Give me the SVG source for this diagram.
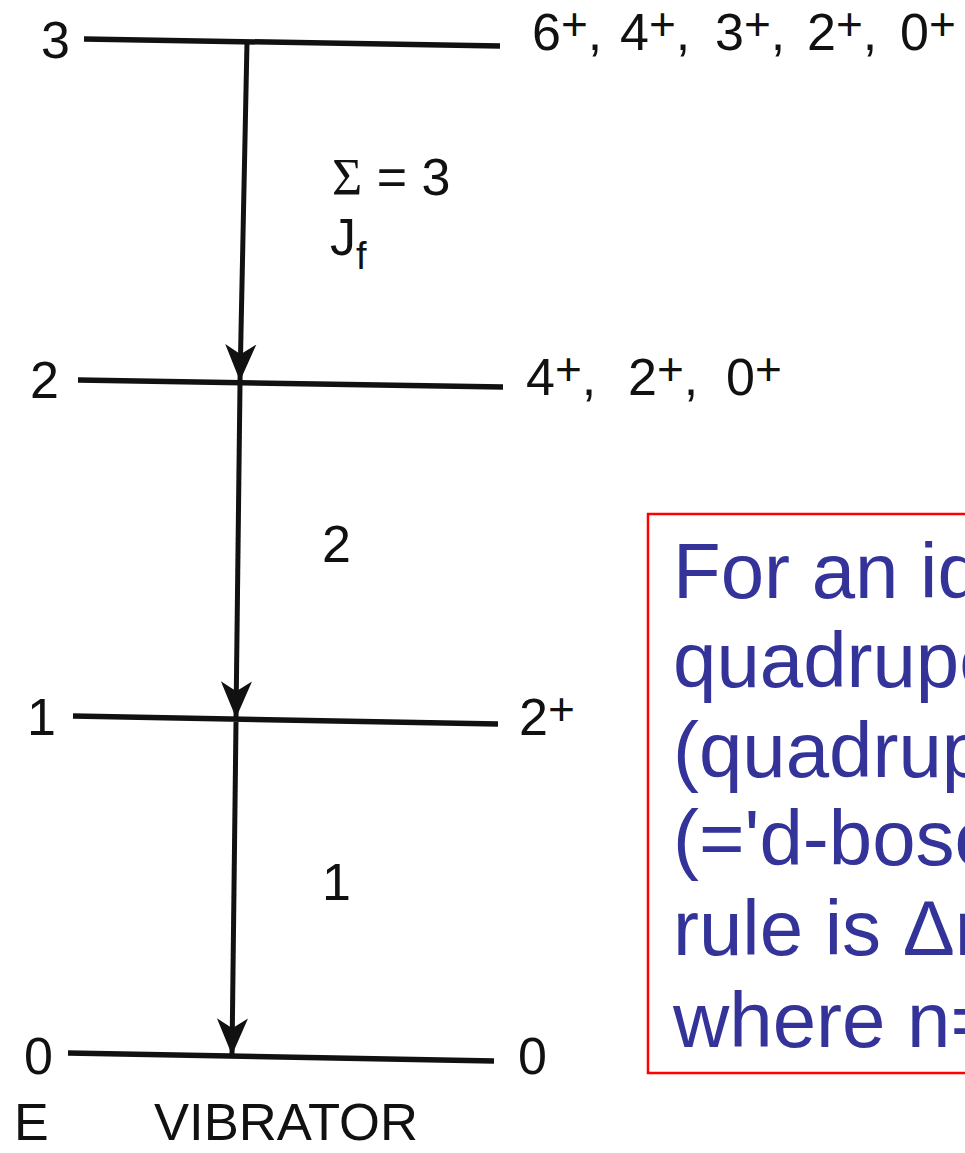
<svg xmlns="http://www.w3.org/2000/svg" width="965" height="1153" viewBox="0 0 965 1153">
<style>
.t{font-family:"Liberation Sans",Arial,sans-serif;font-size:52px;fill:#111}
.sup{font-size:46px}
.lvl{stroke:#111;stroke-width:5.5;stroke-linecap:butt;fill:none}
.arr{stroke:#111;stroke-width:5;fill:none}
.note{font-family:"Liberation Sans",Arial,sans-serif;font-size:78px;fill:#333399}
</style>
<defs>
<marker id="ah" markerUnits="userSpaceOnUse" markerWidth="40" markerHeight="40" viewBox="-34 -16 36 32" refX="0" refY="0" orient="auto">
<path d="M0,0 L-33,-14 L-24,0 L-33,14 Z" fill="#111"/>
</marker>
</defs>
<rect width="965" height="1153" fill="#fff"/>

<g id="level3">
<line class="lvl" x1="84" y1="39" x2="500" y2="46"/>
<text class="t" x="41" y="58">3</text>
<text class="t" x="532" y="50">6<tspan class="sup" dy="-10">+</tspan><tspan dy="10">,</tspan></text>
<text class="t" x="620" y="50">4<tspan class="sup" dy="-10">+</tspan><tspan dy="10">,</tspan></text>
<text class="t" x="715" y="50">3<tspan class="sup" dy="-10">+</tspan><tspan dy="10">,</tspan></text>
<text class="t" x="807" y="50">2<tspan class="sup" dy="-10">+</tspan><tspan dy="10">,</tspan></text>
<text class="t" x="900" y="50">0<tspan class="sup" dy="-10">+</tspan></text>
</g>

<g id="level2">
<line class="lvl" x1="78" y1="380" x2="503" y2="387"/>
<text class="t" x="30" y="398">2</text>
<text class="t" x="526" y="395">4<tspan class="sup" dy="-10">+</tspan><tspan dy="10">,</tspan></text>
<text class="t" x="628" y="395">2<tspan class="sup" dy="-10">+</tspan><tspan dy="10">,</tspan></text>
<text class="t" x="726" y="395">0<tspan class="sup" dy="-10">+</tspan></text>
</g>

<g id="level1">
<line class="lvl" x1="73" y1="716" x2="498" y2="724"/>
<text class="t" x="27" y="735">1</text>
<text class="t" x="519" y="735">2<tspan class="sup" dy="-10">+</tspan></text>
</g>

<g id="level0">
<line class="lvl" x1="68" y1="1053" x2="494" y2="1061"/>
<text class="t" x="24" y="1074">0</text>
<text class="t" x="518" y="1074">0</text>
</g>

<g id="axis-labels">
<text class="t" x="14" y="1140">E</text>
<text class="t" x="154" y="1140" textLength="264" lengthAdjust="spacingAndGlyphs">VIBRATOR</text>
</g>

<g id="connectors">
<path class="arr" d="M247,42 L240,381" marker-end="url(#ah)"/>
<path class="arr" d="M240,384 L236,718" marker-end="url(#ah)"/>
<path class="arr" d="M236,722 L232,1055" marker-end="url(#ah)"/>
</g>

<g id="transition-labels">
<text class="t" x="332" y="195"><tspan font-family="Liberation Serif">Σ</tspan> = 3</text>
<text class="t" x="330" y="255">J<tspan font-size="38" dy="14">f</tspan></text>
<text class="t" x="322" y="562">2</text>
<text class="t" x="322" y="900">1</text>
</g>

<g id="note">
<rect x="648" y="514" width="400" height="559" fill="none" stroke="#ff0000" stroke-width="2.5"/>
<text class="note" x="673" y="598">For an id</text>
<text class="note" x="673" y="687">quadrupo</text>
<text class="note" x="673" y="777">(quadrup</text>
<text class="note" x="673" y="865">(='d-boso</text>
<text class="note" x="673" y="955">rule is Δn</text>
<text class="note" x="673" y="1047">where n=</text>
</g>
</svg>
